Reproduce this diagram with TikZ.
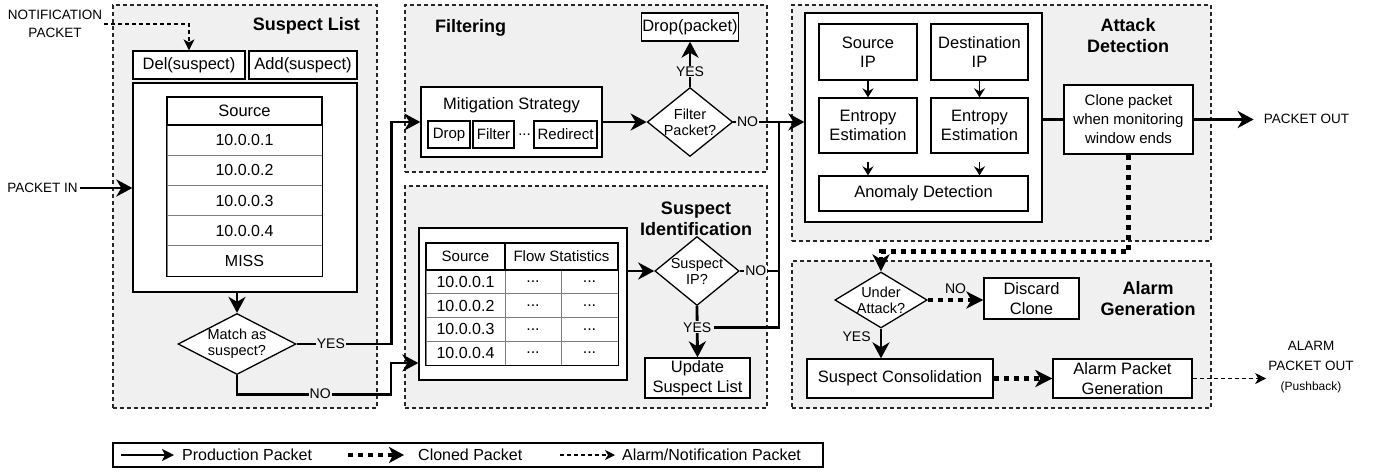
\documentclass[tikz,border=0pt]{standalone}
\usepackage{fontspec}
\setmainfont{Liberation Sans}
\usetikzlibrary{arrows.meta, positioning, shapes.geometric, calc}

\definecolor{panelGray}{RGB}{240,240,240}
\definecolor{rowGray}{RGB}{125,125,125}

\begin{document}
\begin{tikzpicture}[
        x=1pt, y=-1pt,
        sz/.style 2 args={
            minimum width=#1pt,
            minimum height=#2pt
        },
        panel/.style={
            draw=black!85,
            dash pattern=on 4pt off 3pt,
            line width=1.1pt,
            fill=panelGray,
            inner sep=0pt
        },
        block/.style={
            draw,
            line width=1.3pt,
            fill=white,
            inner sep=1pt,
            align=center,
            font=\fontsize{16.5}{19.5}\selectfont
        },
        subBlock/.style={
            block,
            font=\fontsize{15}{18}\selectfont
        },
        cellHead/.style={
            block,
            font=\fontsize{16}{18}\selectfont
        },
        cellRow/.style={
            draw=rowGray,
            line width=1pt,
            fill=white,
            inner sep=0pt,
            font=\fontsize{16}{18}\selectfont
        },
        decision/.style={
            diamond,
            draw,
            line width=1.3pt,
            fill=white,
            inner sep=0pt,
            align=center,
            font=\fontsize{14.5}{16}\selectfont
        },
        headline/.style={
            font=\bfseries\fontsize{18}{21}\selectfont,
            align=center,
            inner sep=0pt
        },
        outerTxt/.style={
            font=\fontsize{13.5}{18}\selectfont,
            align=center,
            inner sep=2pt
        },
        edgeLbl/.style={
            fill=panelGray,
            inner sep=1pt,
            font=\fontsize{14}{16}\selectfont
        },
        legTxt/.style={
            inner ysep=0pt,
            font=\fontsize{16}{18}\selectfont
        },
        prod/.style={
            line width=2.8pt,
            -{Stealth[length=16pt, width=17pt, inset=5pt]}
        },
        prodLine/.style={
            line width=2.8pt
        },
        smallArrow/.style={
            line width=1.6pt,
            -{Stealth[length=9pt, width=11pt, inset=3pt]}
        },
        cloned/.style={
            line width=4.5pt,
            dash pattern=on 5pt off 5pt,
            -{Stealth[length=17pt, width=17pt, inset=5pt]}
        },
        alarm/.style={
            line width=1.2pt,
            dash pattern=on 4pt off 3pt,
            -{Stealth[length=11pt, width=11pt, inset=3pt]}
        }
    ]

        \useasboundingbox (0,0) rectangle (1375,475);

        % Stage panels
        \node[panel, sz={264}{403}] (listPanel) at (245,206.5) {};
        \node[panel, sz={362}{167}] (filtPanel) at (586,88.5) {};
        \node[panel, sz={362}{222}] (identPanel) at (586,297) {};
        \node[panel, sz={419}{236}] (detectPanel) at (1001.5,123) {};
        \node[panel, sz={419}{147}] (alarmPanel) at (1001.5,334.5) {};

        % Panel titles
        \node[headline, anchor=east] (listTitle) at (360,26) {Suspect List};
        \node[headline, anchor=west] (filtTitle) at (435,28) {Filtering};
        \node[headline] (identTitle) at (696,218.5) {Suspect\\Identification};
        \node[headline] (detectTitle) at (1128,35.5) {Attack\\Detection};
        \node[headline] (alarmTitle) at (1148,298.5) {Alarm\\Generation};

        % Suspect list
        \node[block, sz={112}{28}] (delSusp) at (189,65) {Del(suspect)};
        \node[block, sz={108}{28}] (addSusp) at (303,65) {Add(suspect)};
        \node[block, sz={224}{209}] (listWhite) at (245,187.5) {};
        \foreach \ip [count=\i] in {10.0.0.1,10.0.0.2,10.0.0.3,10.0.0.4,MISS}
            \node[cellRow, sz={155}{30.2}] (listRow\i) at (244.5,{109.9+\i*30.2}) {\ip};
        \node[cellHead, sz={155}{28}, font=\fontsize{16.5}{18}\selectfont] (listHead) at (244.5,111) {Source};
        \draw[line width=1.3pt] (listHead.north west) rectangle (listRow5.south east);
        \node[decision, aspect=1.93, sz={118}{61}] (matchDia) at (237,344) {Match as\\suspect?};

        % Filtering
        \node[block, sz={181}{70}] (mitig) at (511.5,122) {};
        \node[block, draw=none, fill=none] (mitigTitle) at (511.5,105) {Mitigation Strategy};
        \node[subBlock, sz={42}{27}] (mDrop) at (449,134.5) {Drop};
        \node[subBlock, sz={41}{27}] (mFilter) at (493.5,134.5) {Filter};
        \node[subBlock, draw=none, fill=none, inner sep=0pt] (mDots) at (524.5,135) {...};
        \node[subBlock, sz={63}{27}] (mRedirect) at (565.5,134.5) {Redirect};
        \node[decision, aspect=1.24, sz={84}{68}] (filterDia) at (690,122) {Filter\\Packet?};
        \node[block, sz={94}{28}] (dropPkt) at (690,27) {Drop(packet)};

        % Suspect identification
        \node[block, sz={208}{152}] (identWhite) at (523,304) {};
        \foreach \ip [count=\i] in {10.0.0.1,10.0.0.2,10.0.0.3,10.0.0.4}
        {
            \node[cellRow, sz={79}{23.75}] (idIp\i) at (465.5,{270+(\i-0.5)*23.75}) {\ip};
            \node[cellRow, sz={56}{23.75}] (idStatA\i) at (533,{270+(\i-0.5)*23.75}) {...};
            \node[cellRow, sz={57}{23.75}] (idStatB\i) at (589.5,{270+(\i-0.5)*23.75}) {...};
        }
        \node[cellHead, sz={79}{27}, font=\fontsize{15}{18}\selectfont] (idHeadSrc) at (465.5,256.5) {Source};
        \node[cellHead, sz={113}{27}, font=\fontsize{15}{18}\selectfont] (idHeadFlow) at (561.5,256.5) {Flow Statistics};
        \draw[line width=1.3pt] (idHeadSrc.north west) rectangle (idStatB4.south east);
        \node[decision, aspect=1.22, sz={83}{68}] (suspDia) at (697,271) {Suspect\\IP?};
        \node[block, sz={105}{40}] (update) at (697.5,378) {Update\\Suspect List};

        % Attack detection
        \node[block, sz={237}{209}] (detectWhite) at (923.5,117.5) {};
        \node[block, sz={98}{56}] (srcIP) at (868,52) {Source\\IP};
        \node[block, sz={97}{56}] (dstIP) at (979.5,52) {Destination\\IP};
        \node[block, sz={98}{55}] (srcEnt) at (868,125.5) {Entropy\\Estimation};
        \node[block, sz={97}{55}] (dstEnt) at (979.5,125.5) {Entropy\\Estimation};
        \node[block, sz={209}{35}] (anomaly) at (923.5,193.5) {Anomaly Detection};
        \node[block, sz={129}{69}, font=\fontsize{15}{19}\selectfont] (clone) at (1128.5,119.5) {Clone packet\\when monitoring\\window ends};

        % Alarm generation
        \node[decision, aspect=1.65, sz={91}{55}] (underDia) at (881,300) {Under\\Attack?};
        \node[block, sz={95}{41}] (discard) at (1031.5,298.5) {Discard\\Clone};
        \node[block, sz={186}{39}] (consol) at (900,378.5) {Suspect Consolidation};
        \node[block, sz={139}{39}] (alarmGen) at (1122.5,378.5) {Alarm Packet\\Generation};

        % Outside labels
        \node[outerTxt] (notif) at (55,24) {NOTIFICATION\\PACKET};
        \node[outerTxt] (pktIn) at (42.5,188) {PACKET IN};
        \node[outerTxt, inner xsep=10pt] (pktOut) at (1306.5,119) {PACKET OUT};
        \node[outerTxt, font=\fontsize{13.5}{20}\selectfont] (alarmOut) at (1311,367)
            {ALARM\\PACKET OUT\\{\fontsize{12}{20}\selectfont (Pushback)}};

        % Production packet path
        \draw[prod] (pktIn.east) -- (pktIn.east -| listWhite.west);
        \draw[prod] (matchDia.north |- listWhite.south) -- (matchDia.north);
        \draw[prod] (matchDia.east)
            -- node[edgeLbl, pos=0.36] (yesMatch) {YES} ++(95,0)
            |- (mitig.west);
        \draw[prod] (matchDia.south) -- ++(0,19)
            -- node[edgeLbl, pos=0.54] (noMatch) {NO} ++(154,0)
            |- ([yshift=-59pt]identWhite.west);
        \draw[prod] (mitig.east) -- (filterDia.west);
        \draw[prod] (filterDia.north) -- node[edgeLbl, pos=0.34] (yesFilter) {YES} (dropPkt.south);

        \coordinate (merge) at (779,122);
        \draw[prod] (filterDia.east) -- node[edgeLbl, pos=0.2] (noFilter) {NO} (filterDia.east -| detectWhite.west);
        \draw[prod] (suspDia.west -| identWhite.east) -- (suspDia.west);
        \draw[prod] (suspDia.south) -- node[edgeLbl, pos=0.415] (yesSusp) {YES} (update.north);
        \draw[prodLine] (suspDia.east) -- node[edgeLbl, pos=0.41] (noSusp) {NO} (suspDia.east -| merge) -- (merge);
        \draw[prodLine] (yesSusp.east) -| (merge);

        % Inside attack detection
        \draw[smallArrow] (srcIP.south) -- (srcEnt.north);
        \draw[smallArrow] (dstIP.south) -- (dstEnt.north);
        \draw[smallArrow, shorten <=8pt] (srcEnt.south) -- (srcEnt.south |- anomaly.north);
        \draw[smallArrow, shorten <=8pt] (dstEnt.south) -- (dstEnt.south |- anomaly.north);
        \draw[prodLine] (clone.west -| detectWhite.east) -- (clone.west);
        \draw[prod] (clone.east) -- (clone.east -| pktOut.west);

        % Cloned packet path
        \draw[cloned] (clone.south) -- ++(0,97) -| (underDia.north);
        \draw[cloned] (underDia.east)
            -- node[edgeLbl, fill=none, above=3pt] (noUnder) {NO}
            (underDia.east -| discard.west);
        \draw[prod] (underDia.south)
            -- node[edgeLbl, fill=none, pos=0.27, left=8pt] (yesUnder) {YES}
            (underDia.south |- consol.north);
        \draw[cloned] (consol.east) -- (alarmGen.west);

        % Alarm and notification path
        \draw[alarm] (alarmGen.east) -- (alarmGen.east -| alarmOut.west);
        \draw[alarm] (notif.east) -| (delSusp.north);

        % Legend
        \node[block, sz={710}{24}, fill=none] (legend) at (468,455) {};
        \coordinate (legProdStart) at (121,455);
        \coordinate (legCloneStart) at (348,455);
        \coordinate (legAlarmStart) at (560,455);
        \node[legTxt, inner xsep=8pt, right=53pt of legProdStart] (legProdTxt) {Production Packet};
        \node[legTxt, inner xsep=14pt, right=56pt of legCloneStart] (legCloneTxt) {Cloned Packet};
        \node[legTxt, inner xsep=7pt, right=55pt of legAlarmStart] (legAlarmTxt) {Alarm/Notification Packet};
        \draw[prod, line width=2.2pt, -{Stealth[length=12pt, width=12pt, inset=3pt]}] (legProdStart) -- (legProdTxt.west);
        \draw[cloned, line width=4pt, -{Stealth[length=15pt, width=16pt, inset=4pt]}] (legCloneStart) -- (legCloneTxt.west);
        \draw[alarm, -{Stealth[length=10pt, width=10pt, inset=3pt]}] (legAlarmStart) -- (legAlarmTxt.west);

    \end{tikzpicture}
\end{document}
